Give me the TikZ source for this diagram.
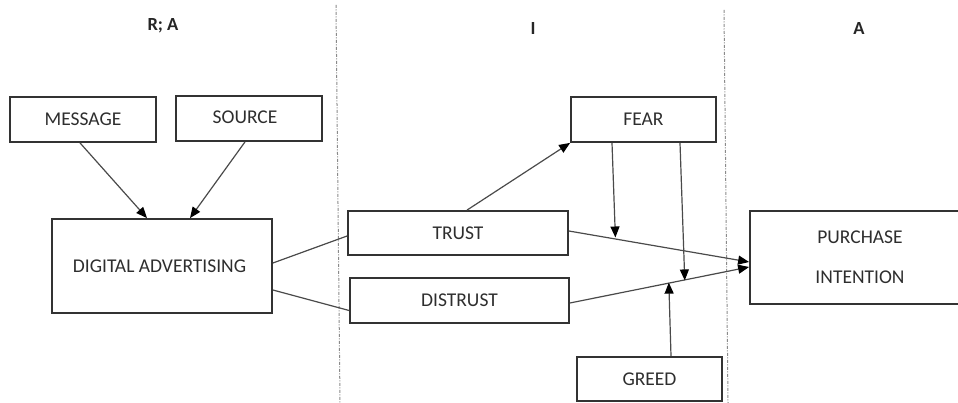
\documentclass[tikz,border=0pt]{standalone}
\usepackage{fontspec}
\setmainfont{Carlito}
\usetikzlibrary{arrows.meta,calc}
\definecolor{boxline}{HTML}{333333}
\definecolor{wireline}{HTML}{4A4A4A}
\definecolor{inkcol}{HTML}{2E2E2E}
\definecolor{zoneline}{HTML}{8A8A8A}
\begin{document}
\begin{tikzpicture}[x=1pt,y=-1pt,
  box/.style={draw=boxline, line width=1.8pt, text=inkcol,
    font=\fontsize{19.5}{23}\selectfont, inner sep=0pt},
  wire/.style={draw=wireline, line width=1.2pt},
  arrowwire/.style={wire, -{Triangle[length=11pt,width=9pt,fill=black,color=black]}},
  zone/.style={draw=zoneline, line width=1pt,
    dash pattern=on 3pt off 1.5pt on 1pt off 1.5pt},
  head/.style={font=\bfseries\fontsize{18.5}{22}\selectfont, text=black!85}]
\useasboundingbox (0,0) rectangle (958,403);
\clip (0,0) rectangle (958,403);

% zone separators
\coordinate (z1top) at (336,5);
\coordinate (z1bot) at (340,403);
\coordinate (z2top) at (724,10);
\coordinate (z2bot) at (728,403);
\draw[zone] (z1top) -- (z1bot);
\draw[zone] (z2top) -- (z2bot);

% zone headings
\node[head] (hra) at (163,26) {R; A};
\node[head] (hi)  at (533,29) {I};
\node[head] (ha)  at (859,29) {A};

% boxes
\node[box, minimum width=146, minimum height=45] (message) at (83,119.5) {MESSAGE};
\node[box, minimum width=146, minimum height=45] (source) at (249,118.5) {\raisebox{2pt}{SOURCE}\hspace*{8pt}};
\node[box, minimum width=220, minimum height=94] (digital) at (162,266) {\raisebox{-4pt}{DIGITAL ADVERTISING}\hspace*{5pt}};
\node[box, minimum width=220, minimum height=44] (trust) at (458,233) {TRUST};
\node[box, minimum width=219, minimum height=45] (distrust) at (459.5,300.5) {DISTRUST};
\node[box, minimum width=145, minimum height=45] (fear) at (643.5,119.5) {FEAR};
\node[box, minimum width=145, minimum height=44] (greed) at (649.5,379) {GREED};
\node[box, minimum width=220, minimum height=93, align=center,
      font=\fontsize{19.5}{40}\selectfont] (pi) at (860,257.5) {PURCHASE\\INTENTION};

% inputs to digital advertising
\draw[arrowwire] ($(message.south)+(-3,0)$) -- ($(digital.north)+(-15,0)$);
\draw[arrowwire] ($(source.south)+(-4,0)$) -- ($(digital.north)+(28,0)$);

% digital advertising to trust / distrust
\draw[wire] ($(digital.east)+(0,-3)$) -- ($(trust.west)+(0,3)$);
\draw[wire] ($(digital.east)+(0,24)$) -- ($(distrust.west)+(0,10)$);

% trust to fear
\draw[arrowwire] ($(trust.north)+(9,0)$) -- (fear.south west);

% paths to purchase intention
\coordinate (tA) at ($(trust.east)+(0,-2)$);
\coordinate (tB) at ($(pi.west)+(0,4.5)$);
\coordinate (dA) at ($(distrust.east)+(0,2.5)$);
\coordinate (dB) at ($(pi.west)+(0,9.5)$);
\draw[arrowwire] (tA) -- (tB);
\draw[arrowwire] (dA) -- (dB);

% moderators
\coordinate (fearhitT) at ($(tA)!0.258!(tB)$);
\coordinate (fearhitD) at ($(dA)!0.641!(dB)$);
\coordinate (greedhit) at ($(dA)!0.552!(dB)$);
\draw[arrowwire] ($(fear.south)+(-31.5,0)$) -- ($(fearhitT)+(0,-1.5)$);
\draw[arrowwire] ($(fear.south)+(36.5,0)$) -- ($(fearhitD)+(0,0.5)$);
\draw[arrowwire] ($(greed.north)+(21.5,0)$) -- ($(greedhit)+(0,-0.5)$);
\end{tikzpicture}
\end{document}
